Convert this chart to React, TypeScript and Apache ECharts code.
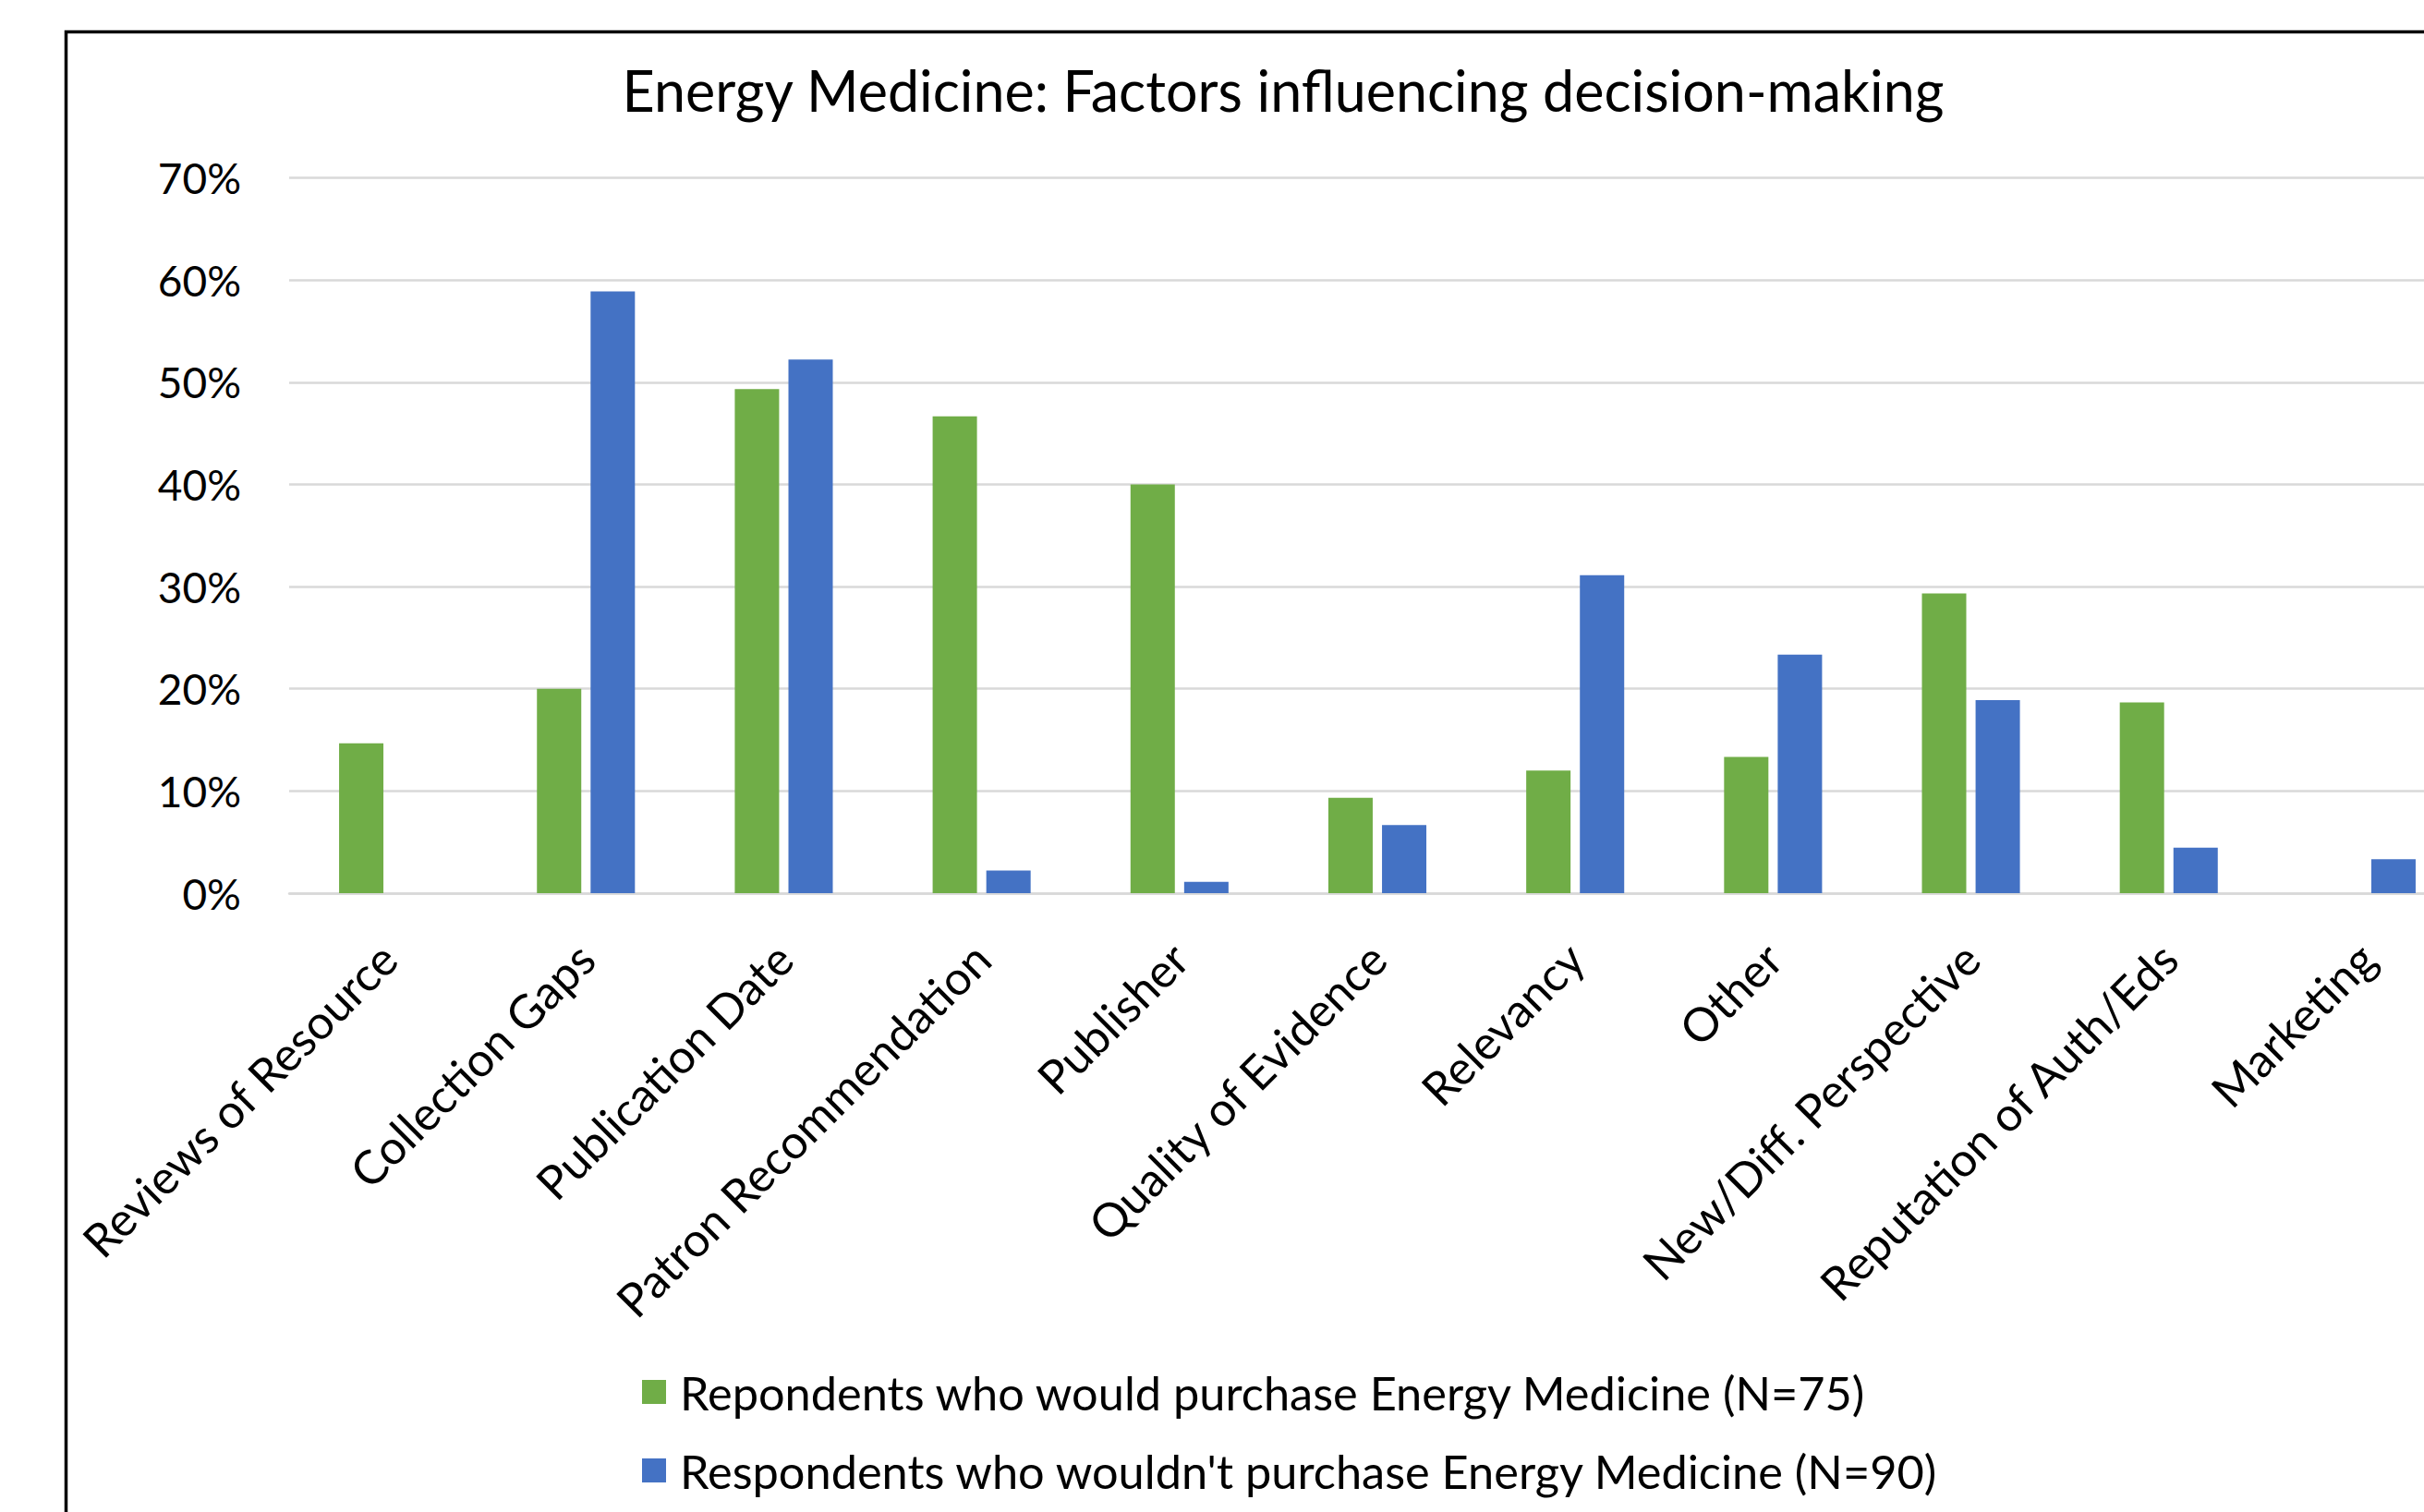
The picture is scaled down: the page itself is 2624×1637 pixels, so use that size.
import React, { useEffect, useRef } from "react";
import * as echarts from "echarts";

const categories = [
  "Reviews of Resource",
  "Collection Gaps",
  "Publication Date",
  "Patron Recommendation",
  "Publisher",
  "Quality of Evidence",
  "Relevancy",
  "Other",
  "New/Diff. Perspective",
  "Reputation of Auth/Eds",
  "Marketing",
];

const wouldPurchase = [14.67, 20.0, 49.33, 46.67, 40.0, 9.33, 12.0, 13.33, 29.33, 18.67, 0];
const wouldntPurchase = [0, 58.89, 52.22, 2.22, 1.11, 6.67, 31.11, 23.33, 18.89, 4.44, 3.33];

const seriesNames = [
  "Repondents who would purchase Energy Medicine (N=75)",
  "Respondents who wouldn't purchase Energy Medicine (N=90)",
];

const titleText = "Energy Medicine: Factors influencing decision-making";

const FONT = "Lato, 'Liberation Sans', sans-serif";

export default function App() {
  const ref = useRef<HTMLDivElement>(null);

  useEffect(() => {
    if (!ref.current) return;
    const chart = echarts.init(ref.current, undefined, { renderer: "svg" });
    chart.setOption({
      animation: false,
      backgroundColor: "#ffffff",
      title: {
        text: titleText,
        left: "center",
        top: 62,
        textStyle: { fontFamily: FONT, fontSize: 61, fontWeight: "normal", color: "#000" },
      },
      graphic: [
        {
          type: "rect",
          shape: { x: 71.5, y: 34.5, width: 4000, height: 4000 },
          style: { fill: "none", stroke: "#000", lineWidth: 3.5 },
          silent: true,
        },
      ],
      legend: {
        orient: "vertical",
        left: 690,
        top: 1473,
        itemWidth: 26,
        itemHeight: 26,
        itemGap: 27,
        icon: "rect",
        textStyle: {
          fontFamily: FONT,
          fontSize: 50.5,
          color: "#000",
          lineHeight: 58,
          padding: [0, 0, 0, 10],
        },
        data: seriesNames,
      },
      grid: {
        left: 313,
        right: 109,
        top: 192.5,
        bottom: 670,
        containLabel: false,
      },
      xAxis: {
        type: "category",
        data: categories,
        axisLine: { show: true, lineStyle: { color: "#D9D9D9", width: 2.5 } },
        axisTick: { show: false },
        axisLabel: {
          interval: 0,
          rotate: 45,
          margin: 62,
          fontFamily: FONT,
          fontSize: 50.5,
          color: "#000",
        },
      },
      yAxis: {
        type: "value",
        min: 0,
        max: 70,
        interval: 10,
        axisLine: { show: false },
        axisTick: { show: false },
        axisLabel: {
          formatter: "{value}%",
          margin: 52,
          fontFamily: FONT,
          fontSize: 46,
          color: "#000",
        },
        splitLine: { lineStyle: { color: "#D9D9D9", width: 2.5 } },
      },
      series: [
        {
          name: seriesNames[0],
          type: "bar",
          data: wouldPurchase,
          barWidth: 48,
          barGap: "21%",
          itemStyle: { color: "#70AD47" },
        },
        {
          name: seriesNames[1],
          type: "bar",
          data: wouldntPurchase,
          barWidth: 48,
          barGap: "21%",
          itemStyle: { color: "#4472C4" },
        },
      ],
    });
    return () => chart.dispose();
  }, []);

  return (
    <div
      style={{
        position: "fixed",
        left: 0,
        top: 0,
        width: 2624,
        height: 1637,
        overflow: "hidden",
        background: "#fff",
      }}
    >
      <div ref={ref} style={{ width: 2778, height: 1637 }} />
    </div>
  );
}
